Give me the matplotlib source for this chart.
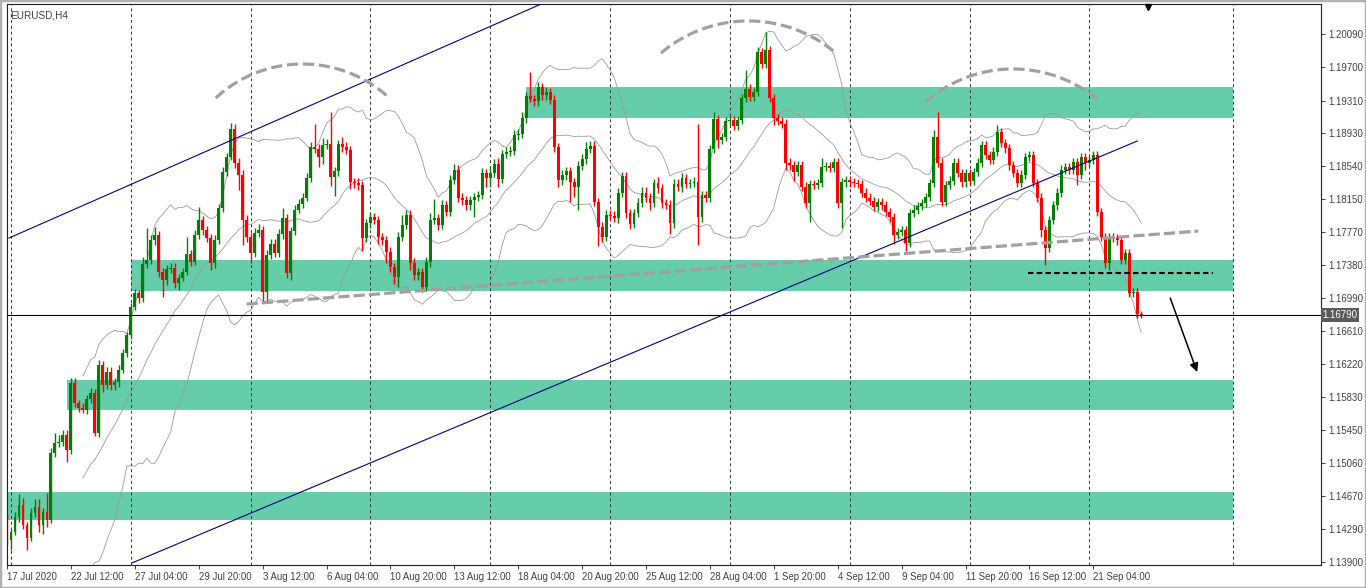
import numpy as np
import pandas as pd
import matplotlib
matplotlib.use("Agg")
import matplotlib.pyplot as plt
from matplotlib.transforms import blended_transform_factory
from matplotlib.patches import Rectangle

plt.rcParams["font.family"] = ["Liberation Sans", "DejaVu Sans"]

# ---------------- data ----------------
symbol = "EURUSD,H4"
open0 = 1.1441
closes = [
    1.1416, 1.1425, 1.1442, 1.1457, 1.1433, 1.1418, 1.1447, 1.1454, 1.1433, 1.1448,
    1.1439, 1.1518, 1.1529, 1.1531, 1.1539, 1.1521, 1.1600, 1.1576, 1.1570, 1.1568,
    1.1581, 1.1588, 1.1541, 1.1621, 1.1597, 1.1613, 1.1597, 1.1601, 1.1615, 1.1635,
    1.1656, 1.1689, 1.1705, 1.1699, 1.1739, 1.1744, 1.1767, 1.1773, 1.1730, 1.1721,
    1.1733, 1.1735, 1.1717, 1.1723, 1.1730, 1.1751, 1.1742, 1.1773, 1.1791, 1.1779,
    1.1770, 1.1740, 1.1767, 1.1805, 1.1847, 1.1865, 1.1898, 1.1858, 1.1844, 1.1791,
    1.1771, 1.1752, 1.1776, 1.1779, 1.1706, 1.1750, 1.1763, 1.1752, 1.1774, 1.1793,
    1.1729, 1.1778, 1.1803, 1.1810, 1.1817, 1.1840, 1.1876, 1.1874, 1.1865, 1.1879,
    1.1880, 1.1841, 1.1848, 1.1880, 1.1876, 1.1873, 1.1835, 1.1834, 1.1832, 1.1770,
    1.1787, 1.1794, 1.1791, 1.1771, 1.1767, 1.1753, 1.1736, 1.1724, 1.1771, 1.1785,
    1.1797, 1.1740, 1.1726, 1.1730, 1.1712, 1.1742, 1.1791, 1.1793, 1.1785, 1.1808,
    1.1800, 1.1838, 1.1850, 1.1817, 1.1814, 1.1808, 1.1814, 1.1818, 1.1820, 1.1846,
    1.1840, 1.1846, 1.1857, 1.1839, 1.1868, 1.1871, 1.1872, 1.1891, 1.1892, 1.1910,
    1.1936, 1.1933, 1.1930, 1.1947, 1.1937, 1.1941, 1.1932, 1.1876, 1.1838, 1.1844,
    1.1848, 1.1835, 1.1830, 1.1854, 1.1862, 1.1874, 1.1878, 1.1812, 1.1783, 1.1771,
    1.1797, 1.1796, 1.1793, 1.1823, 1.1842, 1.1799, 1.1786, 1.1799, 1.1811, 1.1823,
    1.1817, 1.1811, 1.1834, 1.1828, 1.1811, 1.1809, 1.1787, 1.1833, 1.1830, 1.1840,
    1.1833, 1.1834, 1.1835, 1.1794, 1.1820, 1.1817, 1.1874, 1.1909, 1.1885, 1.1888,
    1.1907, 1.1908, 1.1901, 1.1908, 1.1934, 1.1945, 1.1935, 1.1941, 1.1988, 1.1974,
    1.1990, 1.1934, 1.1910, 1.1907, 1.1904, 1.1858, 1.1855, 1.1847, 1.1855, 1.1830,
    1.1811, 1.1833, 1.1832, 1.1834, 1.1853, 1.1854, 1.1852, 1.1859, 1.1811, 1.1835,
    1.1838, 1.1835, 1.1834, 1.1833, 1.1823, 1.1817, 1.1813, 1.1806, 1.1812, 1.1808,
    1.1800, 1.1794, 1.1773, 1.1777, 1.1779, 1.1764, 1.1799, 1.1803, 1.1807, 1.1811,
    1.1818, 1.1834, 1.1888, 1.1858, 1.1812, 1.1832, 1.1837, 1.1858, 1.1846, 1.1835,
    1.1846, 1.1837, 1.1847, 1.1858, 1.1879, 1.1867, 1.1861, 1.1871, 1.1894, 1.1881,
    1.1875, 1.1855, 1.1846, 1.1834, 1.1844, 1.1865, 1.1867, 1.1834, 1.1817, 1.1779,
    1.1758, 1.1791, 1.1808, 1.1823, 1.1850, 1.1853, 1.1850, 1.1859, 1.1844, 1.1865,
    1.1858, 1.1861, 1.1867, 1.1800, 1.1771, 1.1740, 1.1771, 1.1770, 1.1767, 1.1744,
    1.1752, 1.1705, 1.1706, 1.1681, 1.1679,
]
wick_up_pips = [
    5, 4, 6, 12, 8, 4, 6, 10, 10, 5,
    23, 5, 12, 8, 6, 5, 6, 5, 4, 6,
    5, 6, 5, 6, 4, 5, 6, 5, 6, 5,
    4, 4, 5, 4, 8, 37, 6, 10, 5, 5,
    5, 6, 5, 4, 5, 20, 5, 6, 15, 5,
    5, 5, 6, 5, 6, 4, 7, 5, 5, 5,
    6, 5, 6, 7, 5, 6, 6, 5, 6, 12,
    5, 5, 5, 5, 5, 6, 6, 28, 6, 8,
    6, 37, 5, 5, 8, 6, 5, 5, 6, 5,
    5, 6, 5, 5, 5, 5, 6, 5, 6, 12,
    6, 5, 6, 5, 5, 6, 8, 23, 5, 6,
    5, 6, 6, 5, 5, 5, 5, 5, 5, 6,
    5, 8, 5, 6, 5, 5, 6, 5, 6, 8,
    5, 28, 5, 6, 5, 6, 5, 5, 5, 5,
    5, 5, 5, 6, 6, 8, 5, 5, 5, 5,
    6, 5, 5, 5, 5, 5, 5, 5, 6, 6,
    6, 6, 5, 7, 5, 5, 5, 6, 6, 6,
    5, 5, 6, 69, 5, 5, 5, 9, 5, 5,
    5, 5, 5, 5, 5, 22, 5, 5, 6, 5,
    21, 5, 5, 5, 5, 5, 5, 5, 5, 5,
    5, 5, 5, 5, 10, 5, 5, 5, 5, 5,
    5, 5, 5, 5, 5, 5, 5, 5, 5, 5,
    5, 5, 5, 5, 5, 5, 5, 5, 5, 5,
    5, 5, 8, 29, 5, 5, 5, 5, 5, 5,
    5, 5, 5, 5, 5, 5, 5, 5, 8, 5,
    5, 5, 5, 5, 5, 5, 5, 5, 5, 5,
    5, 5, 5, 5, 5, 5, 5, 5, 5, 5,
    5, 5, 5, 5, 5, 5, 5, 5, 5, 5,
    5, 5, 5, 5, 3,
]
wick_dn_pips = [
    6, 12, 4, 5, 5, 14, 4, 5, 8, 10,
    8, 4, 5, 4, 5, 14, 5, 5, 4, 4,
    5, 5, 4, 5, 8, 4, 5, 5, 6, 4,
    5, 5, 4, 5, 4, 5, 5, 5, 6, 21,
    6, 4, 6, 8, 4, 4, 5, 4, 4, 6,
    5, 8, 6, 4, 5, 4, 4, 6, 18, 29,
    6, 12, 5, 5, 10, 12, 5, 5, 5, 5,
    6, 8, 5, 4, 5, 4, 5, 5, 12, 8,
    5, 10, 22, 5, 5, 5, 8, 6, 6, 15,
    5, 5, 5, 8, 6, 12, 6, 8, 12, 5,
    5, 8, 6, 6, 6, 5, 6, 5, 6, 5,
    5, 5, 5, 5, 5, 5, 5, 20, 5, 5,
    10, 10, 5, 10, 5, 5, 5, 5, 6, 5,
    5, 4, 5, 5, 5, 5, 5, 5, 8, 6,
    6, 23, 12, 27, 5, 5, 5, 5, 23, 6,
    5, 5, 5, 6, 5, 6, 6, 5, 5, 5,
    5, 8, 5, 5, 6, 5, 12, 5, 5, 6,
    5, 5, 5, 33, 5, 5, 5, 5, 10, 5,
    5, 5, 5, 5, 5, 5, 5, 5, 5, 5,
    5, 5, 8, 5, 5, 8, 5, 10, 5, 5,
    6, 22, 5, 5, 5, 5, 5, 5, 6, 29,
    5, 5, 5, 5, 5, 5, 5, 5, 5, 5,
    5, 5, 10, 5, 5, 10, 5, 5, 5, 5,
    5, 5, 5, 5, 5, 5, 5, 5, 5, 5,
    5, 5, 5, 5, 5, 5, 5, 5, 5, 5,
    5, 5, 5, 5, 5, 5, 5, 5, 5, 8,
    20, 5, 5, 5, 5, 5, 5, 5, 12, 5,
    8, 5, 5, 5, 5, 5, 8, 5, 5, 5,
    5, 5, 5, 5, 3,
]

tick_bars = [0, 16, 32, 48, 64, 80, 96, 112, 128, 144, 160, 176, 192, 208, 224, 240, 256, 272]
tick_labels = ["17 Jul 2020", "22 Jul 12:00", "27 Jul 04:00", "29 Jul 20:00", "3 Aug 12:00",
               "6 Aug 04:00", "10 Aug 20:00", "13 Aug 12:00", "18 Aug 04:00", "20 Aug 20:00",
               "25 Aug 12:00", "28 Aug 04:00", "1 Sep 20:00", "4 Sep 12:00", "9 Sep 04:00",
               "11 Sep 20:00", "16 Sep 12:00", "21 Sep 04:00"]
grid_bars = [1, 31, 61, 91, 121, 151, 181, 211, 241, 271, 307]
price_ticks = [1.20090, 1.19700, 1.19310, 1.18930, 1.18540, 1.18150, 1.17770, 1.17380,
               1.16990, 1.16610, 1.16220, 1.15830, 1.15450, 1.15060, 1.14670, 1.14290, 1.13900]
last_price = 1.16790

zone_lo = [1.19105, 1.17076, 1.15680, 1.14389]
zone_hi = [1.19469, 1.17439, 1.16031, 1.14718]
zone_start = [130.0, 31.0, 15.0, 0.0]
zone_end = 307.0

channel_upper = [(0.5, 1.17697), (133.75, 1.20442)]
channel_lower = [(31.25, 1.13885), (283.0, 1.18835)]
neckline = [(60.0, 1.16923), (298.25, 1.17779)]
break_level = [(255.75, 1.17287), (302.0, 1.17287)]
arrow_from = (291.25, 1.16993)
arrow_to = (298.0, 1.16125)
arcs = [(52.25, 95.75, 1.19339, 1.19738),
        (163.75, 207.5, 1.19867, 1.20243),
        (230.0, 273.75, 1.19293, 1.19680)]
shift_marker_bar = 285.75

# ---------------- derived ----------------
c = np.array(closes)
o = np.concatenate([[open0], c[:-1]])
pip = 0.0001
hi = np.maximum(o, c) + np.array(wick_up_pips) * pip
lo = np.minimum(o, c) - np.array(wick_dn_pips) * pip
x = np.arange(len(c))
bull = c >= o

s = pd.Series(c)
mid = s.rolling(20).mean()
sd = s.rolling(20).std(ddof=0)
bb_up = mid + 2 * sd
bb_dn = mid - 2 * sd

# ---------------- figure ----------------
W, H = 1366, 588
fig = plt.figure(figsize=(W / 100, H / 100), dpi=100)
fig.patch.set_facecolor("white")
ax = fig.add_axes([7 / W, 23 / H, (1321 - 7) / W, (565 - 4) / H])
XMIN, XMAX = 0.5, 329.0
YMIN, YMAX = 1.13862, 1.20442
ax.set_xlim(XMIN, XMAX)
ax.set_ylim(YMIN, YMAX)

# zones
for zl, zh, zs in zip(zone_lo, zone_hi, zone_start):
    ax.add_patch(Rectangle((zs, zl), zone_end - zs, zh - zl, facecolor="#66CDAA",
                           edgecolor="none", zorder=0.5))

# grid
for gb in grid_bars:
    ax.axvline(gb, color="#303030", lw=0.7, ls=(0, (3, 3)), zorder=1)

# bollinger bands
for band in (bb_up, mid, bb_dn):
    ax.plot(x, band, color="#9a9a9a", lw=0.6, zorder=1.5)

# candles
cols = np.where(bull, "#008000", "#FF0000")
ax.vlines(x, lo, hi, colors=cols, lw=1.0, zorder=2)
body_lo = np.minimum(o, c)
body_h = np.maximum(np.abs(c - o), 0.00012)
ax.bar(x, body_h, bottom=body_lo, width=0.72, color=cols, linewidth=0, zorder=2.1)

# trend channel lines
for seg in (channel_upper, channel_lower):
    ax.plot([seg[0][0], seg[1][0]], [seg[0][1], seg[1][1]], color="#000080", lw=0.8, zorder=3)

# neckline
ax.plot([neckline[0][0], neckline[1][0]], [neckline[0][1], neckline[1][1]],
        color="#A0A0A0", lw=2.3, ls=(0, (3.5, 1.3)), zorder=3, solid_capstyle="butt")
# break level
ax.plot([break_level[0][0], break_level[1][0]], [break_level[0][1], break_level[1][1]],
        color="black", lw=1.5, ls=(0, (2.6, 1.6)), zorder=3)

# current price line
ax.axhline(last_price, color="black", lw=0.8, zorder=3)

# arcs (circular in screen space)
ax_w_px = (1321 - 7)
ax_h_px = (565 - 4)
px_per_bar = ax_w_px / (XMAX - XMIN)
px_per_price = ax_h_px / (YMAX - YMIN)
for x0, x1, base, top in arcs:
    h = (x1 - x0) / 2 * px_per_bar
    sg = (top - base) * px_per_price
    R = (h * h + sg * sg) / (2 * sg)
    th = np.arcsin(h / R)
    t = np.linspace(-th, th, 120)
    xc = (x0 + x1) / 2
    yc = top - R / px_per_price
    ax.plot(xc + R * np.sin(t) / px_per_bar, yc + R * np.cos(t) / px_per_price,
            color="#A0A0A0", lw=2.3, ls=(0, (3.5, 1.5)), zorder=3)

# arrow
ax.annotate("", xy=arrow_to, xytext=arrow_from,
            arrowprops=dict(arrowstyle="-|>", color="black", lw=1.1, mutation_scale=13,
                            shrinkA=0, shrinkB=0), zorder=4)

# shift marker
ax.plot([shift_marker_bar], [YMAX - 0.0004], marker="v", color="black", markersize=5,
        zorder=4, clip_on=False)

# title
ax.text(0.002, 0.988, symbol, transform=ax.transAxes, fontsize=7.2, color="#404040",
        va="top", ha="left")

# axes style
for sp in ax.spines.values():
    sp.set_color("#202020")
    sp.set_linewidth(0.8)
ax.yaxis.tick_right()
ax.set_yticks(price_ticks)
ax.set_yticklabels([f"{p:.5f}" for p in price_ticks])
ax.set_xticks(tick_bars)
ax.set_xticklabels(tick_labels, ha="left")
ax.tick_params(axis="both", labelsize=6.9, colors="#404040", length=3, width=0.7,
               direction="out", pad=2)
ax.tick_params(axis="y", pad=2)

# last price label
tr = blended_transform_factory(ax.transAxes, ax.transData)
ax.text(1.0012, last_price, f"{last_price:.5f}", transform=tr, fontsize=6.9, color="white",
        va="center", ha="left", zorder=5,
        bbox=dict(boxstyle="square,pad=0.2", facecolor="#5a5a5a", edgecolor="none"))

# window border
fig.patches.append(Rectangle((0, 0), 1, 1, transform=fig.transFigure, fill=False,
                             edgecolor="#B0B0B0", lw=2.5))

fig.savefig("out.png", dpi=100)
